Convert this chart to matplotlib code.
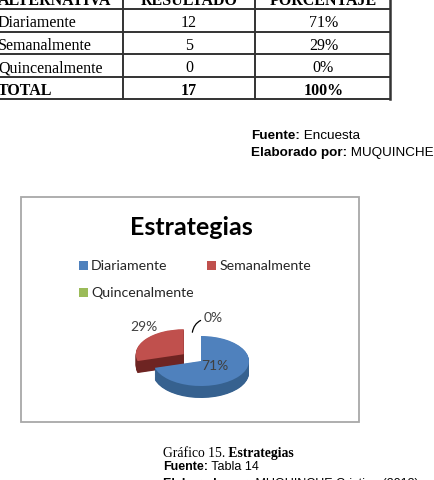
import matplotlib
matplotlib.use("Agg")
import matplotlib.pyplot as plt
import numpy as np

# ---- data ----
headers = ["ALTERNATIVA", "RESULTADO", "PORCENTAJE"]
categories = ["Diariamente", "Semanalmente", "Quincenalmente"]
resultado = [12, 5, 0]
porcentaje = ["71%", "29%", "0%"]
total_label = "TOTAL"
total_resultado = "17"
total_porcentaje = "100%"
chart_title = "Estrategias"
pie_labels = ["71%", "29%", "0%"]

top_colors = ["#4F81BD", "#C0504D", "#9BBB59"]
side_colors = ["#36618F", "#6E2422", "#6E8A3C"]

W, H = 435, 480
fig = plt.figure(figsize=(W / 100, H / 100), dpi=100)
ax0 = fig.add_axes([0, 0, 1, 1])
ax0.set_xlim(0, W)
ax0.set_ylim(H, 0)
ax0.axis("off")
renderer = fig.canvas.get_renderer()

SERIF = "Liberation Serif"
SANS = "Liberation Sans"
CAL = "Lato"

# ---- table ----
line_c = "#333333"
row_y = [9, 31.5, 54, 76.7, 99]
col_x = [-5, 123, 255, 390]
for y in row_y:
    ax0.plot([col_x[0], col_x[-1]], [y, y], color=line_c, lw=1.4, solid_capstyle="butt")
ax0.plot([col_x[1], col_x[1]], [-5, row_y[-1]], color=line_c, lw=1.4)
ax0.plot([col_x[2], col_x[2]], [-5, row_y[-1]], color=line_c, lw=1.4)
ax0.plot([col_x[3], col_x[3]], [-5, row_y[-1]], color=line_c, lw=1.8)

c2 = (col_x[1] + col_x[2]) / 2
c3 = (col_x[2] + col_x[3]) / 2 + 1
fs_t = 11.5
ax0.text(-2, 5, headers[0], family=SERIF, fontweight="bold", fontsize=fs_t, va="baseline", ha="left")
ax0.text(c2, 5, headers[1], family=SERIF, fontweight="bold", fontsize=fs_t, va="baseline", ha="center")
ax0.text(c3, 5, headers[2], family=SERIF, fontweight="bold", fontsize=fs_t, va="baseline", ha="center")
base_y = [27.3, 50, 72.5]
for cat, r, p, y in zip(categories, resultado, porcentaje, base_y):
    ax0.text(-2, y, cat, family=SERIF, fontsize=fs_t, va="baseline", ha="left")
    ax0.text(c2, y, str(r), family=SERIF, fontsize=fs_t, va="baseline", ha="center")
    ax0.text(c3, y, p, family=SERIF, fontsize=fs_t, va="baseline", ha="center")
ax0.text(-2, 95, total_label, family=SERIF, fontweight="bold", fontsize=fs_t, va="baseline", ha="left")
ax0.text(c2, 95, total_resultado, family=SERIF, fontweight="bold", fontsize=fs_t, va="baseline", ha="center")
ax0.text(c3, 95, total_porcentaje, family=SERIF, fontweight="bold", fontsize=fs_t, va="baseline", ha="center")


def two_part(x, y, first, second, fam1, fam2, w1, w2, size):
    t1 = ax0.text(x, y, first, family=fam1, fontweight=w1, fontsize=size, va="baseline", ha="left")
    bb = t1.get_window_extent(renderer=renderer)
    ax0.text(x + bb.width, y, second, family=fam2, fontweight=w2, fontsize=size, va="baseline", ha="left")


two_part(251, 139, "Fuente:", " Encuesta", SANS, SANS, "bold", "normal", 9.7)
two_part(251, 156, "Elaborado por:", " MUQUINCHE", SANS, SANS, "bold", "normal", 9.7)

# ---- chart box ----
ax0.add_patch(plt.Rectangle((21, 197), 338, 225, fill=False, ec="#A8A8A8", lw=1.3))
ax0.text(191, 235, chart_title, family=CAL, fontweight="bold", fontsize=18, ha="center", va="baseline", color="#000000")

# ---- 3D pie ----
cx, cy, rx, ry = 201, 361, 48, 25
pax = fig.add_axes([(cx - 1.5 * rx) / W, (H - (cy + 1.5 * ry)) / H, 3 * rx / W, 3 * ry / H])
explode = [0, 0.45, 0]
depth = 0.48
layers = np.linspace(depth, 0, 22)
order_z = [100, 0, 50]
top_wedges = None
for li, t in enumerate(layers):
    is_top = li == len(layers) - 1
    cols = top_colors if is_top else side_colors
    wedges, _ = pax.pie(resultado, colors=cols, startangle=90, counterclock=False,
                        explode=explode, center=(0, -t),
                        wedgeprops=dict(linewidth=0, antialiased=True))
    for k, w in enumerate(wedges):
        w.set_zorder(order_z[k] + li)
    if is_top:
        top_wedges = wedges
pax.set_aspect("auto")
pax.set_xlim(-1.5, 1.5)
pax.set_ylim(-1.5, 1.5)
pax.axis("off")

# labels
lab_fs = 10
lab_c = "#404040"
w = top_wedges[0]
tm = np.deg2rad((w.theta1 + w.theta2) / 2)
pax.text(w.center[0] + 0.36 * np.cos(tm), w.center[1] + 0.36 * np.sin(tm) + 0.0, pie_labels[0],
         family=CAL, fontsize=lab_fs, color=lab_c, ha="center", va="center", zorder=300)
w = top_wedges[1]
tm = np.deg2rad((w.theta1 + w.theta2) / 2)
pax.text(w.center[0] + 1.1 * np.cos(tm) + 0.05, w.center[1] + 1.1 * np.sin(tm) + 0.42, pie_labels[1],
         family=CAL, fontsize=lab_fs, color=lab_c, ha="center", va="center", zorder=300)
w = top_wedges[2]
tm = np.deg2rad((w.theta1 + w.theta2) / 2)
pax.annotate(pie_labels[2], xy=(w.center[0] - 0.18 + 1.1 * np.cos(tm), w.center[1] + 1.1 * np.sin(tm) + 0.05),
             xytext=(w.center[0] + 0.05, w.center[1] + 1.72),
             family=CAL, fontsize=lab_fs, color=lab_c, ha="left", va="center", zorder=300,
             arrowprops=dict(arrowstyle="-", color="#000000", lw=0.9,
                             connectionstyle="angle3,angleA=0,angleB=80", shrinkA=0, shrinkB=0),
             annotation_clip=False)

# legend (row-major order)
handles = [top_wedges[0], top_wedges[2], top_wedges[1]]
labels = [categories[0], categories[2], categories[1]]
fig.legend(handles, labels, loc="upper left", bbox_to_anchor=(79 / W, 1 - 260 / H), ncol=2,
           frameon=False, prop=dict(family=CAL, size=10.2), handlelength=0.6, handleheight=0.6,
           handletextpad=0.25, columnspacing=0.95, labelspacing=1.08, borderpad=0, borderaxespad=0,
           labelcolor="#262626")

# ---- caption ----
two_part(163, 457, "Gráfico 15.", " Estrategias", SERIF, SERIF, "normal", "bold", 9.8)
two_part(163, 469.5, "Fuente:", " Tabla 14", SANS, SANS, "bold", "normal", 9.0)
two_part(163, 486.5, "Elaborado por:", " MUQUINCHE Cristina (2013)", SANS, SANS, "bold", "normal", 9.0)

fig.savefig("out.png", dpi=100)
